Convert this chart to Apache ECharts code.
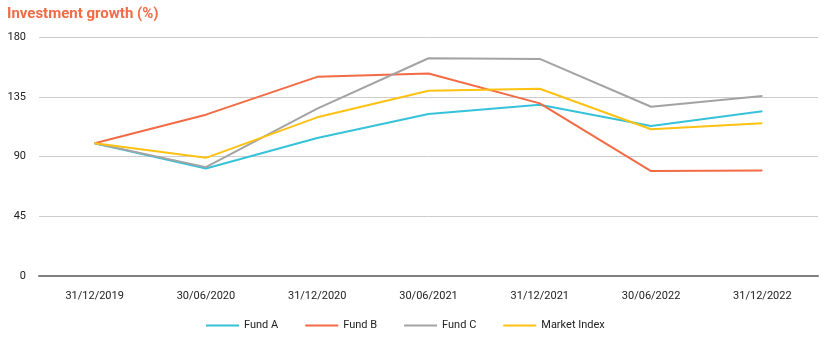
<!DOCTYPE html>
<html><head><meta charset="utf-8">
<script src="https://cdn.jsdelivr.net/npm/echarts@6/dist/echarts.min.js"></script>
<style>html,body{margin:0;padding:0;background:#fff}#c{width:831px;height:340px}</style>
</head><body><div id="c"></div>
<script>
const categories = ['31/12/2019','30/06/2020','31/12/2020','30/06/2021','31/12/2021','30/06/2022','31/12/2022'];
const fundA = [100, 81, 104, 122, 129, 113, 124];
const fundB = [100, 121.5, 150, 152.5, 130, 79, 79.5];
const fundC = [100, 82, 126, 164, 163.5, 127.5, 135.5];
const marketIndex = [100, 89, 119.5, 139.5, 141, 110.5, 115];
const seriesNames = ['Fund A','Fund B','Fund C','Market Index'];
const colors = ['#36C2D8','#F26B45','#A3A3A3','#FFC112'];
const dataList = [fundA, fundB, fundC, marketIndex];

const chart = echarts.init(document.getElementById('c'), null, {renderer:'canvas'});
chart.setOption({
  animation:false,
  color: colors,
  title:{text:'Investment growth (%)', left:2, top:2,
    textStyle:{color:'#F26B45', fontFamily:'Roboto', fontWeight:'bold', fontSize:15}},
  grid:{left:39, right:13, top:37, bottom:64, containLabel:false},
  legend:{top:315, left:201, itemWidth:33, itemHeight:2, itemGap:27, icon:'rect',
    textStyle:{fontFamily:'Roboto', fontSize:11, color:'#222'},
    data: seriesNames},
  xAxis:{type:'category', data:categories, boundaryGap:true,
    axisLine:{show:true, lineStyle:{color:'#808080', width:2}},
    axisTick:{show:false},
    axisLabel:{margin:15, fontFamily:'Roboto', fontSize:11, color:'#222'}},
  yAxis:{type:'value', min:0, max:180, interval:45,
    axisLine:{show:false}, axisTick:{show:false},
    axisLabel:{margin:13, fontFamily:'Roboto', fontSize:11, color:'#222'},
    splitLine:{lineStyle:{color:'#cccccc', width:1}}},
  series: seriesNames.map((n,i)=>({
    name:n, type:'line', data:dataList[i], symbol:'none', showSymbol:false,
    lineStyle:{width:2, color:colors[i]}, itemStyle:{color:colors[i]}
  }))
});
</script></body></html>
